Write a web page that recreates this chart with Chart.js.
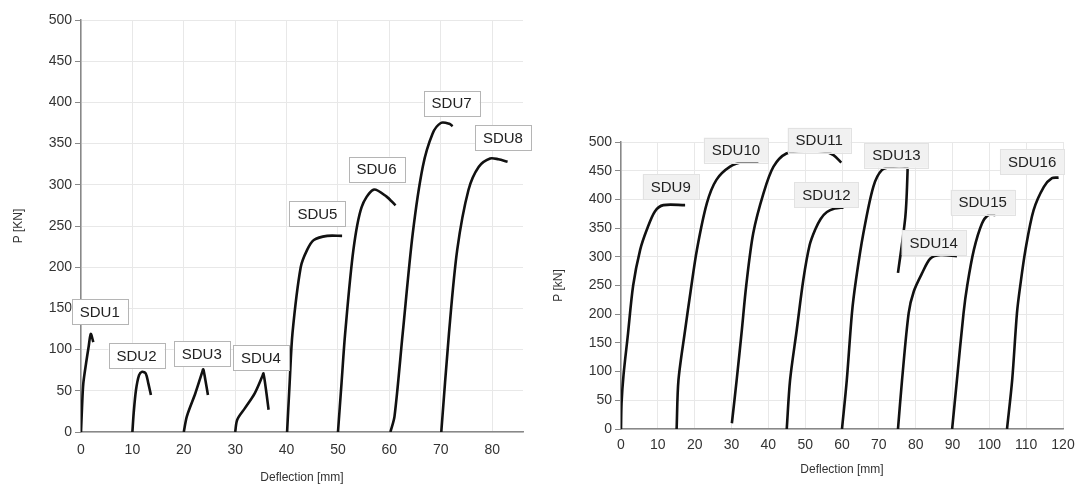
<!DOCTYPE html>
<html>
<head>
<meta charset="utf-8">
<script src="https://cdn.jsdelivr.net/npm/chart.js@4/dist/chart.umd.min.js"></script>
<style>
    html, body { margin: 0; padding: 0; background: #fff; }
    .box_chart { position: absolute; top: 0; height: 491px; }
    #box_left { left: 0; width: 540px; }
    #box_right { left: 540px; width: 542px; }
</style>
</head>
<body>
<div class="box_chart" id="box_left"><canvas id="chartLeft"></canvas></div>
<div class="box_chart" id="box_right"><canvas id="chartRight"></canvas></div>
<script>
/*-------------------- data [deflection mm, P kN] --------------------*/
//left chart
var sdu1 = [[0, 0], [0.2, 30], [0.45, 59], [1.0, 84], [1.5, 104], [1.9, 119], [2.4, 109]];
var sdu2 = [[10, 0], [10.25, 23], [10.7, 51], [11.3, 69], [11.9, 73], [12.6, 71], [13.1, 59], [13.6, 45]];
var sdu3 = [[20, 0], [20.6, 19], [22.25, 47], [23.6, 73], [23.8, 76], [24.2, 63], [24.7, 45]];
var sdu4 = [[30, 0], [30.4, 15], [31.9, 29], [33.8, 47], [35.3, 68], [35.5, 71], [36, 51], [36.5, 27]];
var sdu5 = [[40.1, 0], [40.6, 60], [41.15, 120], [42.75, 200], [44.0, 221], [45.3, 233], [47.9, 238], [50.8, 238]];
var sdu6 = [[50, 0], [50.7, 60], [51.4, 120], [53, 221], [54.6, 273], [56.9, 294], [59.4, 286], [61.2, 275]];
var sdu7 = [[60.2, 0], [61, 19], [62.6, 120], [64.55, 241], [66.5, 322], [68.4, 362], [70, 375], [71.7, 374], [72.3, 371]];
var sdu8 = [[70.1, 0], [71.6, 120], [73.2, 221], [75.4, 294], [77.4, 322], [79.6, 332], [81.2, 331], [83, 328]];

//right chart
var sdu9 = [[0, 0], [0.15, 45], [0.7, 95], [1.8, 160], [3.3, 250], [5.2, 312], [7, 347], [9.2, 379], [11.5, 390], [17.4, 390]];
var sdu10 = [[15.1, 0], [15.6, 85], [17.4, 172], [18.9, 240], [20.6, 312], [23.3, 393], [25.9, 434], [29.6, 457], [33.2, 465], [37.3, 465]];
var sdu11 = [[30.1, 10], [31.4, 85], [32.8, 172], [34, 250], [35.9, 341], [38.7, 411], [41.4, 457], [44.9, 480], [50.4, 485], [55.4, 483], [57.7, 477], [59.8, 464]];
var sdu12 = [[45, 0], [45.9, 85], [47.7, 172], [49.5, 260], [51.2, 320], [52.7, 347], [54.2, 366], [55.9, 378], [58, 384], [60.4, 386]];
var sdu13 = [[60, 0], [61.3, 85], [62.7, 202], [63.8, 260], [65.8, 341], [68.5, 422], [70.8, 451], [73.9, 457], [77.6, 456], [77.8, 450], [77.2, 370], [75.2, 272]];
var sdu14 = [[75.2, 0], [76.3, 85], [78.1, 202], [79.5, 240], [81.7, 271], [84, 297], [86.7, 303], [91.2, 301]];
var sdu15 = [[89.9, 0], [91.2, 85], [93, 202], [94, 250], [95.8, 312], [98, 358], [99.8, 373], [101.6, 373]];
var sdu16 = [[104.8, 0], [106.2, 85], [107.5, 202], [108.4, 250], [109.8, 312], [112, 381], [114.8, 422], [117, 437], [118.8, 438]];

//tag boxes
var leftTagNames = ['SDU1', 'SDU2', 'SDU3', 'SDU4', 'SDU5', 'SDU6', 'SDU7', 'SDU8'];
var leftTagX = [3.65, 10.8, 23.5, 35, 46, 57.5, 72.1, 82.1];
var leftTagY = [146, 93, 95, 90, 265, 319, 399, 357];

var rightTagNames = ['SDU9', 'SDU10', 'SDU11', 'SDU12', 'SDU13', 'SDU14', 'SDU15', 'SDU16'];
var rightTagX = [13.5, 31.2, 53.8, 55.8, 74.8, 84.9, 98.2, 111.6];
var rightTagY = [422, 486, 503, 408, 477, 325, 395, 466];

//axes
var leftXMax = 86;
var rightXMax = 120;
var yMax = 500;

/*-------------------- drawing --------------------*/
Chart.defaults.font.family = "'Liberation Sans', Arial, sans-serif";
Chart.defaults.color = '#333';

/**
 * 把点列表转为scatter数据
 * @param list
 * @returns {Array}
 */
function toPoints(list) {
    var out = [];
    for (var i = 0; i < list.length; i++) {
        out.push({x: list[i][0], y: list[i][1]});
    }
    return out;
}

/**
 * tag box plugin, draws the SDU names at data coordinates
 */
function tagPlugin(names, xs, ys, fill, stroke) {
    return {
        id: 'tags',
        afterDatasetsDraw: function (chart) {
            var ctx = chart.ctx,
                sx = chart.scales.x,
                sy = chart.scales.y;
            ctx.save();
            ctx.font = "15px 'Liberation Sans', Arial, sans-serif";
            ctx.textAlign = 'center';
            ctx.textBaseline = 'middle';
            for (var i = 0; i < names.length; i++) {
                var px = sx.getPixelForValue(xs[i]),
                    py = sy.getPixelForValue(ys[i]),
                    w = ctx.measureText(names[i]).width + 16,
                    h = 25;
                ctx.fillStyle = fill;
                ctx.fillRect(px - w / 2, py - h / 2, w, h);
                if (stroke) {
                    ctx.strokeStyle = stroke;
                    ctx.lineWidth = 1;
                    ctx.strokeRect(Math.round(px - w / 2) + 0.5, Math.round(py - h / 2) + 0.5, Math.round(w), h);
                }
                ctx.fillStyle = '#222';
                ctx.fillText(names[i], px, py + 1);
            }
            ctx.restore();
        }
    };
}

/**
 * 生成一个图
 */
function showChart(canvasId, series, xMax, yTitle, pad, xAxisHeight, titlePadBottom, xTickPad, plugin) {
    var datasets = [];
    for (var i = 0; i < series.length; i++) {
        datasets.push({
            data: toPoints(series[i]),
            showLine: true,
            borderColor: '#111',
            borderWidth: 2.6,
            pointRadius: 0,
            tension: 0.3,
            fill: false
        });
    }
    var ctx = document.getElementById(canvasId).getContext('2d');
    return new Chart(ctx, {
        type: 'scatter',
        data: {datasets: datasets},
        plugins: [plugin],
        options: {
            responsive: true,
            maintainAspectRatio: false,
            animation: false,
            layout: {padding: pad},
            plugins: {legend: {display: false}, tooltip: {enabled: false}},
            scales: {
                x: {
                    type: 'linear',
                    min: 0,
                    max: xMax,
                    afterFit: function (s) { s.height = xAxisHeight; },
                    ticks: {stepSize: 10, includeBounds: false, padding: xTickPad, font: {size: 14}, maxRotation: 0},
                    grid: {color: '#e8e8e8', tickLength: 6, tickColor: '#fff'},
                    border: {color: '#888', width: 1.5},
                    title: {display: true, text: 'Deflection [mm]', font: {size: 12}, color: '#333', padding: {top: 0, bottom: titlePadBottom}}
                },
                y: {
                    min: 0,
                    max: yMax,
                    afterFit: function (s) { s.width = 81; },
                    ticks: {stepSize: 50, padding: 3, font: {size: 14}},
                    grid: {color: '#e8e8e8', tickLength: 6, tickColor: '#888'},
                    border: {color: '#888', width: 1.5},
                    title: {display: true, text: yTitle, font: {size: 12}, color: '#333', padding: {top: 11, bottom: 0}}
                }
            }
        }
    });
}

showChart('chartLeft', [sdu1, sdu2, sdu3, sdu4, sdu5, sdu6, sdu7, sdu8], leftXMax, 'P [KN]',
    {top: 20, right: 17, bottom: 0, left: 0}, 59, 6, 4,
    tagPlugin(leftTagNames, leftTagX, leftTagY, '#fff', '#b5b5b5'));

showChart('chartRight', [sdu9, sdu10, sdu11, sdu12, sdu13, sdu14, sdu15, sdu16], rightXMax, 'P [kN]',
    {top: 142, right: 19, bottom: 0, left: 0}, 62, 14, 2,
    tagPlugin(rightTagNames, rightTagX, rightTagY, '#f1f1f1', '#e2e2e2'));
</script>
</body>
</html>
